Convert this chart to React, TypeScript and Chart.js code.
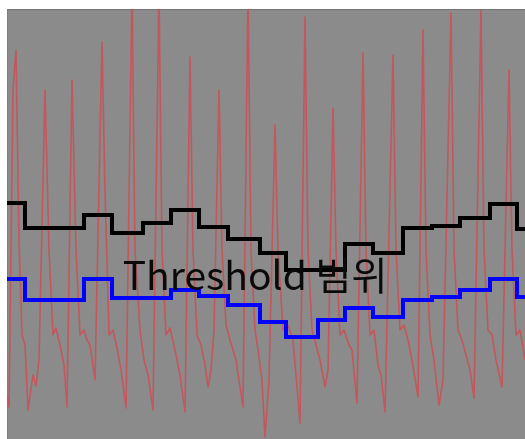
import { useEffect, useRef } from "react";
import { Chart, registerables } from "chart.js";

Chart.register(...registerables);

// Sampled waveform: time (samples) and level (arbitrary units)
const sampleTime = [
  0, 2, 6, 9,
  12, 15, 18, 21, 26, 29, 32, 38,
  42, 46, 49, 53, 57, 60, 65,
  69, 73, 77, 80, 83, 88, 95,
  98, 102, 106, 110, 114, 119, 125,
  128, 133, 137, 141, 146, 152,
  155, 159, 163, 168, 173, 178, 183,
  186, 190, 194, 198, 201, 204, 207, 212,
  215, 219, 223, 229, 236, 241,
  244, 248, 251, 255, 258, 262, 268,
  271, 276, 281, 286, 293, 298,
  301, 305, 309, 313, 318, 321, 326,
  329, 333, 337, 342, 345, 350, 356,
  359, 363, 367, 371, 374, 378, 386,
  389, 393, 397, 401, 405, 411, 416,
  419, 423, 427, 432, 436, 444,
  447, 451, 455, 459, 463, 467, 474,
  477, 481, 485, 489, 495, 502,
  505, 509, 513, 518,
];
const sampleLevel = [
  44, 32, 349, 389,
  199, 104, 94, 29, 64, 53, 79, 349,
  189, 104, 111, 94, 74, 32, 359,
  189, 104, 109, 99, 94, 59, 397,
  249, 104, 109, 91, 69, 31, 449,
  189, 109, 79, 64, 29, 449,
  189, 104, 111, 89, 64, 27, 382,
  189, 104, 94, 74, 52, 69, 109, 349,
  189, 114, 99, 79, 32, 449,
  189, 109, 89, 59, 2, 59, 314,
  189, 109, 114, 99, 16, 422,
  189, 109, 94, 79, 52, 69, 331,
  189, 104, 109, 94, 89, 36, 386,
  189, 104, 109, 74, 64, 27, 384,
  189, 109, 114, 99, 79, 42, 409,
  189, 104, 79, 34, 59, 426,
  189, 109, 99, 84, 69, 41, 429,
  189, 109, 104, 79, 52, 369,
  189, 104, 109, 79,
];

// Threshold bands: start time of each step and its level
const stepStart = [0, 18, 77, 105, 136, 164, 192, 221, 253, 279, 311, 338, 366, 396, 425, 453, 483, 510];
const upperLevel = [236, 211, 224, 206, 216, 229, 212, 200, 186, 169, 169, 195, 186, 211, 213, 221, 235, 210];
const lowerLevel = [160, 139, 160, 141, 141, 149, 143, 134, 117, 102, 119, 131, 122, 139, 142, 149, 160, 142];

const timeMax = 518;
const levelMax = 430;

const labelText = "Threshold 범위";
const labelTime = 248;
const labelLevel = 149;

function stepPoints(levels: number[]) {
  const pts = stepStart.map((t, i) => ({ x: t, y: levels[i] }));
  pts.push({ x: timeMax, y: levels[levels.length - 1] });
  return pts;
}

const backgroundPlugin = {
  id: "plotBackground",
  beforeDraw(chart: any) {
    const { ctx, chartArea } = chart;
    ctx.save();
    ctx.fillStyle = "#8b8b8b";
    ctx.fillRect(chartArea.left, chartArea.top, chartArea.right - chartArea.left, chartArea.bottom - chartArea.top);
    ctx.fillStyle = "#737373";
    ctx.fillRect(chartArea.left, chartArea.top, chartArea.right - chartArea.left, 1);
    ctx.fillStyle = "#7d7d7d";
    ctx.fillRect(chartArea.left, chartArea.top, 1, chartArea.bottom - chartArea.top);
    ctx.restore();
  },
};

const labelPlugin = {
  id: "bandLabel",
  afterDatasetsDraw(chart: any) {
    const { ctx, scales } = chart;
    const x = scales.x.getPixelForValue(labelTime);
    const y = scales.y.getPixelForValue(labelLevel);
    ctx.save();
    ctx.font = '39px "Noto Sans CJK KR", "Noto Sans", sans-serif';
    ctx.fillStyle = "#0a0a0a";
    ctx.textAlign = "center";
    ctx.textBaseline = "alphabetic";
    ctx.fillText(labelText, x, y);
    ctx.restore();
  },
};

export default function App() {
  const canvasRef = useRef<HTMLCanvasElement | null>(null);

  useEffect(() => {
    if (!canvasRef.current) return;
    const chart = new Chart(canvasRef.current, {
      type: "line",
      data: {
        datasets: [
          {
            label: "lower",
            data: stepPoints(lowerLevel),
            stepped: true,
            borderColor: "#0000ff",
            borderWidth: 4,
            pointRadius: 0,
            fill: false,
          },
          {
            label: "upper",
            data: stepPoints(upperLevel),
            stepped: true,
            borderColor: "#000000",
            borderWidth: 4,
            pointRadius: 0,
            fill: false,
          },
          {
            label: "signal",
            data: sampleTime.map((t, i) => ({ x: t, y: sampleLevel[i] })),
            borderColor: "rgba(206, 78, 84, 0.85)",
            borderWidth: 1.6,
            borderJoinStyle: "round",
            pointRadius: 0,
            tension: 0,
            fill: false,
          },
        ],
      },
      options: {
        animation: false,
        responsive: true,
        maintainAspectRatio: false,
        layout: { padding: { left: 7, top: 9, right: 0, bottom: 0 } },
        plugins: { legend: { display: false }, tooltip: { enabled: false } },
        scales: {
          x: { type: "linear", min: 0, max: timeMax, display: false },
          y: { type: "linear", min: 0, max: levelMax, display: false },
        },
      },
      plugins: [backgroundPlugin, labelPlugin],
    });
    return () => chart.destroy();
  }, []);

  return (
    <div style={{ position: "fixed", left: 0, top: 0, width: 525, height: 439, background: "#ffffff" }}>
      <canvas ref={canvasRef} />
    </div>
  );
}
